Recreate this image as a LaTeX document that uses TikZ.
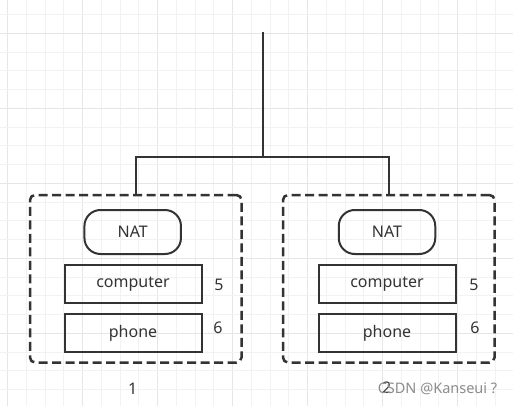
\documentclass[tikz,border=0pt]{standalone}
\usepackage{fontspec}
\setmainfont{Noto Sans}
\definecolor{ink}{HTML}{333333}
\definecolor{gridminor}{HTML}{F2F2F2}
\definecolor{gridmajor}{HTML}{E6E6E6}
\definecolor{wm}{HTML}{8C8C8C}
\tikzset{
  box/.style={draw=ink, line width=2pt, minimum width=137pt, minimum height=37.5pt, inner sep=0pt, text=ink, font=\fontsize{16}{18}\selectfont},
  pill/.style={draw=ink, line width=2pt, rounded corners=16pt, minimum width=96.5pt, minimum height=44pt, inner sep=0pt, text=ink, font=\fontsize{16}{18}\selectfont},
  group/.style={draw=ink, line width=2.5pt, dash pattern=on 9pt off 4.5pt, rounded corners=5pt, minimum width=211.5pt, minimum height=167.5pt, inner sep=0pt},
  lbl/.style={text=ink, inner sep=0pt, font=\fontsize{16}{18}\selectfont},
  conn/.style={draw=ink, line width=2pt},
}
\begin{document}
\begin{tikzpicture}[x=1pt,y=-1pt]
\useasboundingbox (0,0) rectangle (513,406);
\fill[white] (0,0) rectangle (513,406);
% grid
\foreach \k in {0,...,27} {
  \pgfmathsetmacro\xx{7.5+18.75*\k}
  \pgfmathtruncatemacro\m{mod(\k,4)}
  \ifnum\m=0 \draw[gridmajor,line width=0.9pt] (\xx,0) -- (\xx,406);
  \else \draw[gridminor,line width=0.9pt] (\xx,0) -- (\xx,406); \fi
}
\foreach \k in {0,...,21} {
  \pgfmathsetmacro\yy{14.5+18.75*\k}
  \pgfmathtruncatemacro\m{mod(\k,4)}
  \ifnum\m=1 \draw[gridmajor,line width=0.9pt] (0,\yy) -- (513,\yy);
  \else \draw[gridminor,line width=0.9pt] (0,\yy) -- (513,\yy); \fi
}
% groups
\node[group] (lbox) at (135.75,278.75) {};
\node[group] (rbox) at (388.75,278.75) {};
\coordinate (top) at (262.5,32.5);
\coordinate (j) at (262.5,157);
\draw[conn] (top) -- (j);
\draw[conn] (lbox.north) |- (j) -| (rbox.north);
% left contents
\node[pill] (nat1) at (132.7,232) {NAT};
\node[box] (comp1) at (133,284) {computer};
\node[box] (phone1) at (133,333) {phone};
\node[lbl] (n5a) at (219,284.5) {5};
\node[lbl] (n6a) at (218,328) {6};
\node[lbl] (g1) at (132.7,388.5) {1};
% right contents
\node[pill] (nat2) at (387,232) {NAT};
\node[box] (comp2) at (387,284) {computer};
\node[box] (phone2) at (387,333) {phone};
\node[lbl] (n5b) at (474,284.5) {5};
\node[lbl] (n6b) at (475,328) {6};
\node[lbl] (g2) at (386.7,388) {2};
\node[text=wm, inner sep=0pt, font=\fontsize{14.5}{16}\selectfont] (wmark) at (437.5,388.5) {CSDN @Kanseui ?};
\end{tikzpicture}
\end{document}
